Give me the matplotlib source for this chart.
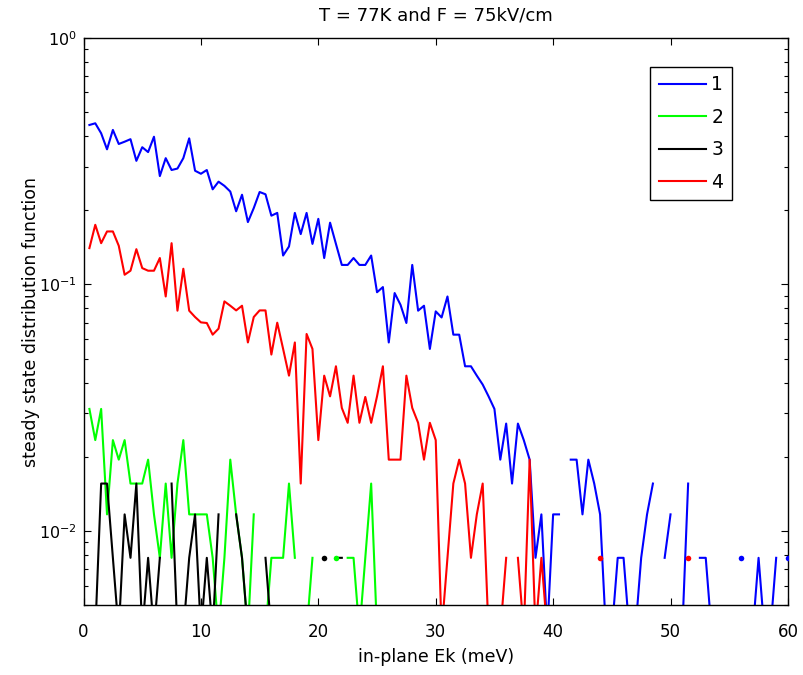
import numpy as np
import matplotlib
matplotlib.use("Agg")
import matplotlib.pyplot as plt

plt.rcParams['font.family'] = ['DejaVu Sans']
plt.rcParams['mathtext.fontset'] = 'dejavusans'
plt.rcParams['mathtext.default'] = 'regular'

# energy grid (meV)
energy = [0.5 * k for k in range(1, 121)]

# series 1 (blue)
s1 = [0.443, 0.45, 0.41, 0.353, 0.423, 0.371, 0.379, 0.388, 0.317, 0.36,
      0.344, 0.397, 0.275, 0.325, 0.291, 0.295, 0.325, 0.391, 0.289, 0.281,
      0.291, 0.243, 0.261, 0.251, 0.238, 0.198, 0.231, 0.179, 0.204, 0.237,
      0.232, 0.190, 0.195, 0.131, 0.1425, 0.195, 0.16, 0.195, 0.146, 0.1845,
      0.128, 0.178, 0.146, 0.120, 0.120, 0.128, 0.120, 0.120, 0.131, 0.093,
      0.0976, 0.0582, 0.0923, 0.0827, 0.0698, 0.120, 0.0783, 0.082, 0.0548, 0.0778,
      0.0735, 0.0894, 0.0626, 0.0626, 0.0466, 0.0466, 0.0427, 0.0393, 0.0352, 0.0313,
      0.0195, 0.0273, 0.0156, 0.0273, 0.0234, 0.0195, 0.0078, 0.0117, 0.0039, 0.0117,
      0.0117, 0, 0.0195, 0.0195, 0.0117, 0.0195, 0.0156, 0.0117, 0.0039, 0.0039,
      0.0078, 0.0078, 0.0039, 0.0039, 0.0078, 0.0117, 0.0156, 0, 0.0078, 0.0117,
      0, 0.0039, 0.0156, 0, 0.0078, 0.0078, 0.0039, 0, 0, 0,
      0, 0.0078, 0, 0.0039, 0.0078, 0.0039, 0.0039, 0.0078, 0, 0.0078]

# series 2 (green)
s2 = [0.0313, 0.0234, 0.0313, 0.0117, 0.0234, 0.0195, 0.0234, 0.0156, 0.0156, 0.0156,
      0.0195, 0.0117, 0.0078, 0.0156, 0.0078, 0.0156, 0.0234, 0.0117, 0.0117, 0.0117,
      0.0117, 0.0078, 0.0039, 0.0078, 0.0195, 0.0117, 0.0078, 0.0039, 0.0117, 0,
      0.0039, 0.0078, 0.0078, 0.0078, 0.0156, 0.0078, 0, 0.0039, 0.0078, 0,
      0, 0, 0.0078, 0, 0.0078, 0.0078, 0.0039, 0.0078, 0.0156, 0.0039]

# series 3 (black)
s3 = [0, 0.0039, 0.0156, 0.0156, 0.0078, 0.0039, 0.0117, 0.0078, 0.0156, 0.0039,
      0.0078, 0.0039, 0.0078, 0, 0.0156, 0.0039, 0.0039, 0.0078, 0.0117, 0.0039,
      0.0078, 0.0039, 0.0117, 0, 0, 0.0117, 0.0078, 0.0039, 0, 0,
      0.0078, 0.0039, 0, 0, 0, 0, 0, 0, 0, 0,
      0.0078, 0, 0.0078, 0.0078]

# series 4 (red)
s4 = [0.1404, 0.1745, 0.147, 0.164, 0.164, 0.1435, 0.1095, 0.1137, 0.139, 0.1165,
      0.1137, 0.1137, 0.128, 0.0894, 0.147, 0.0783, 0.1158, 0.0783, 0.0738, 0.0702,
      0.0698, 0.0626, 0.0662, 0.0854, 0.082, 0.0785, 0.082, 0.0582, 0.0738, 0.0785,
      0.0785, 0.052, 0.0700, 0.0548, 0.0427, 0.0582, 0.0156, 0.063, 0.0548, 0.0234,
      0.0427, 0.0352, 0.0466, 0.0316, 0.0275, 0.0427, 0.0275, 0.035, 0.0275, 0.0352,
      0.0466, 0.0195, 0.0195, 0.0195, 0.0427, 0.0316, 0.0275, 0.0195, 0.0275, 0.0234,
      0.0039, 0.0078, 0.0156, 0.0195, 0.0156, 0.0078, 0.0117, 0.0156, 0.0039, 0,
      0.0039, 0.0078, 0, 0.0078, 0.0039, 0.0195, 0.0039, 0.0078, 0.0039, 0,
      0, 0, 0, 0, 0, 0, 0, 0.0078, 0, 0,
      0, 0, 0, 0, 0, 0, 0, 0, 0, 0,
      0, 0, 0.0078]

labels = ['1', '2', '3', '4']
colors = ['#0000ff', '#00ff00', '#000000', '#ff0000']
series = [s1, s2, s3, s4]

fig = plt.figure(figsize=(8.04, 6.75), dpi=100)
ax = fig.add_axes([0.1039, 0.103, 0.8761, 0.8411])

x = np.array(energy)
dot_layers = []
for vals, col, lab in zip(series, colors, labels):
    y = np.full(len(x), np.nan)
    v = np.array(vals, dtype=float)
    y[:len(v)] = v
    y[y <= 0] = np.nan
    ax.plot(x, y, color=col, lw=1.5, label=lab)
    # isolated samples (no drawn neighbours) appear as dots
    finite = np.isfinite(y)
    left = np.concatenate([[False], finite[:-1]])
    right = np.concatenate([finite[1:], [False]])
    iso = finite & ~left & ~right
    dot_layers.append((x[iso], y[iso], col))

for xd, yd, col in dot_layers:
    ax.plot(xd, yd, 'o', color=col, ms=4.0, mec='none', zorder=5)

ax.set_yscale('log')
ax.set_xlim(0, 60)
ax.set_ylim(0.005, 1)
ax.set_xticks([0, 10, 20, 30, 40, 50, 60])
ax.tick_params(axis='both', which='both', direction='in', top=True, right=True,
               labelsize=12)
ax.tick_params(axis='y', labelsize=11.5)
ax.tick_params(which='major', length=5, width=0.8)
ax.tick_params(which='minor', length=3, width=0.8)
ax.tick_params(axis='x', which='minor', bottom=False, top=False)
ax.tick_params(axis='x', pad=12.5)
ax.tick_params(axis='y', pad=5)
for sp in ax.spines.values():
    sp.set_linewidth(1.0)

ax.set_title('T = 77K and F = 75kV/cm', fontsize=13, pad=0, y=1.030)
ax.set_xlabel('in-plane Ek (meV)', fontsize=12.5)
ax.xaxis.set_label_coords(0.5, -0.0749)
ax.xaxis.label.set_va('top')
ax.set_ylabel('steady state distribution function', fontsize=12.5)
ax.yaxis.set_label_coords(-0.0615, 0.5)

leg = ax.legend(loc='upper right', bbox_to_anchor=(0.920, 0.949), fontsize=13.5,
                frameon=True, fancybox=False, edgecolor='black', framealpha=1,
                handlelength=2.5, labelspacing=0.72, borderpad=0.45,
                handletextpad=0.3, borderaxespad=0)
leg.get_frame().set_linewidth(1.0)

fig.savefig('out.png', dpi=100)
